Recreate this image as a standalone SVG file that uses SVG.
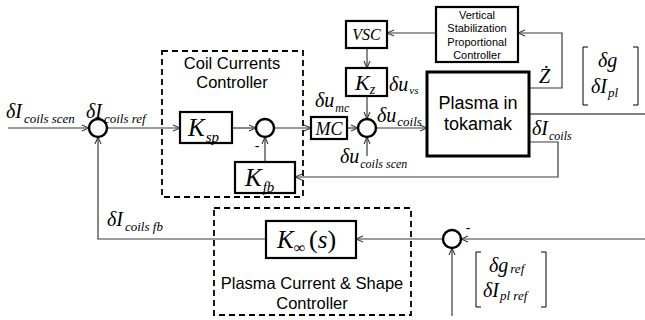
<svg xmlns="http://www.w3.org/2000/svg" width="645" height="320" viewBox="0 0 645 320">
<style>
.c{fill:none;stroke:#3a3a3a;stroke-width:1.2}
.b{fill:#fff;stroke:#000;stroke-width:2.2}
.d{fill:none;stroke:#000;stroke-width:1.8;stroke-dasharray:6 4}
.s{fill:#fff;stroke:#000;stroke-width:2.4}
.m{font-family:"Liberation Serif",serif;font-style:italic;fill:#000}
.t{font-family:"Liberation Sans",Arial,sans-serif;fill:#000;text-anchor:middle}
.k{fill:none;stroke:#000;stroke-width:1}
</style>
<defs>
<marker id="a" viewBox="0 0 8 8" refX="8" refY="4" markerWidth="8" markerHeight="8" orient="auto" markerUnits="userSpaceOnUse">
<path d="M1,1 L8,4 L1,7" fill="none" stroke="#3a3a3a" stroke-width="1.1"/>
</marker>
</defs>
<g id="connectors">
<line class="c" x1="8" y1="128" x2="89" y2="128" marker-end="url(#a)"/>
<line class="c" x1="107" y1="128" x2="180" y2="128" marker-end="url(#a)"/>
<line class="c" x1="232" y1="128" x2="256" y2="128" marker-end="url(#a)"/>
<line class="c" x1="265" y1="162" x2="265" y2="137" marker-end="url(#a)"/>
<line class="c" x1="274" y1="128" x2="311" y2="128" marker-end="url(#a)"/>
<line class="c" x1="347" y1="128" x2="358" y2="128" marker-end="url(#a)"/>
<line class="c" x1="367" y1="48" x2="367" y2="68" marker-end="url(#a)"/>
<line class="c" x1="367" y1="96" x2="367" y2="119" marker-end="url(#a)"/>
<line class="c" x1="367" y1="156" x2="367" y2="137" marker-end="url(#a)"/>
<line class="c" x1="376" y1="128" x2="427" y2="128" marker-end="url(#a)"/>
<line class="c" x1="436" y1="33" x2="387" y2="33" marker-end="url(#a)"/>
<polyline class="c" points="529,88 562,88 562,33 518,33" marker-end="url(#a)"/>
<line x1="529" y1="114" x2="645" y2="114" stroke="#000" stroke-width="1.2"/>
<polyline class="c" points="529,142 558,142 558,177 295,177" marker-end="url(#a)"/>
<line class="c" x1="645" y1="239" x2="461" y2="239" marker-end="url(#a)"/>
<line class="c" x1="452" y1="316" x2="452" y2="248" marker-end="url(#a)"/>
<line class="c" x1="443" y1="239" x2="356" y2="239" marker-end="url(#a)"/>
<polyline class="c" points="266,239 98,239 98,137" marker-end="url(#a)"/>
</g>
<g id="coil-currents-controller">
<rect class="d" x="162" y="51" width="141" height="146"/>
<text class="t" x="232" y="69" font-size="16.5">Coil Currents</text>
<text class="t" x="232" y="88" font-size="16.5">Controller</text>
</g>
<g id="plasma-shape-controller">
<rect class="d" x="214" y="208" width="197" height="107"/>
<text class="t" x="312" y="289" font-size="16.5">Plasma Current &amp; Shape</text>
<text class="t" x="312" y="309" font-size="16.5">Controller</text>
</g>
<g id="sum1"><circle class="s" cx="98" cy="128" r="9"/></g>
<g id="sum2"><circle class="s" cx="265" cy="128" r="9"/>
<text class="t" x="257" y="151" font-size="14">-</text></g>
<g id="sum3"><circle class="s" cx="367" cy="128" r="9"/></g>
<g id="sum4"><circle class="s" cx="452" cy="239" r="9"/>
<text class="t" x="468" y="233" font-size="14">-</text></g>
<g id="Ksp"><rect class="b" x="180" y="112" width="52" height="31"/>
<text class="m" x="188" y="136" font-size="25">K<tspan font-size="15" dy="6" dx="1">sp</tspan></text></g>
<g id="Kfb"><rect class="b" x="235" y="162" width="60" height="31"/>
<text class="m" x="245" y="186" font-size="25">K<tspan font-size="15" dy="6" dx="1">fb</tspan></text></g>
<g id="MC"><rect class="b" x="311" y="117" width="36" height="22"/>
<text class="m" x="329" y="135" font-size="18" text-anchor="middle">MC</text></g>
<g id="VSC"><rect class="b" x="346" y="21" width="41" height="27"/>
<text class="m" x="366.5" y="40" font-size="16" text-anchor="middle">VSC</text></g>
<g id="Kz"><rect class="b" x="346" y="68" width="41" height="28"/>
<text class="m" x="355" y="90" font-size="22">K<tspan font-size="14" dy="4">z</tspan></text></g>
<g id="VSPC"><rect class="b" x="436" y="7" width="82" height="55"/>
<text class="t" x="477" y="19" font-size="11">Vertical</text>
<text class="t" x="477" y="32" font-size="11">Stabilization</text>
<text class="t" x="477" y="45.5" font-size="11">Proportional</text>
<text class="t" x="477" y="58.5" font-size="11">Controller</text></g>
<g id="plasma"><rect x="427" y="72" width="102" height="84" fill="#fff" stroke="#000" stroke-width="3"/>
<text class="t" x="478" y="109" font-size="18">Plasma in</text>
<text class="t" x="478" y="130" font-size="18">tokamak</text></g>
<g id="Kinf"><rect class="b" x="266" y="221" width="90" height="37"/>
<text class="m" x="277" y="248" font-size="25">K<tspan font-size="16" dy="5">∞</tspan><tspan font-style="normal" font-size="26" dy="-5" dx="4">(</tspan><tspan>s</tspan><tspan font-style="normal" font-size="26">)</tspan></text></g>
<g id="labels">
<text class="m" x="6" y="118" font-size="20">δI<tspan font-size="13" dy="5" dx="2">coils scen</tspan></text>
<text class="m" x="86" y="118" font-size="20">δI<tspan font-size="13" dy="5" dx="2">coils ref</tspan></text>
<text class="m" x="315" y="107" font-size="20">δu<tspan font-size="12" dy="5" dx="1">mc</tspan></text>
<text class="m" x="389" y="91" font-size="20">δu<tspan font-size="11" dy="3" dx="1">vs</tspan></text>
<text class="m" x="377" y="122" font-size="20">δu<tspan font-size="13" dy="4" dx="1">coils</tspan></text>
<text class="m" x="340" y="163" font-size="20">δu<tspan font-size="12" dy="5" dx="1">coils scen</tspan></text>
<text class="m" x="532" y="135" font-size="20">δI<tspan font-size="12" dy="5" dx="1">coils</tspan></text>
<text class="m" x="107" y="226" font-size="20">δI<tspan font-size="13" dy="5" dx="2">coils fb</tspan></text>
<text class="m" x="539" y="83" font-size="20">Ż</text>
</g>
<g id="matrix-out">
<path class="k" d="M588,47 H583 V105 H588 M633,47 H638 V105 H633"/>
<text class="m" x="598" y="67" font-size="20">δg</text>
<text class="m" x="591" y="93" font-size="20">δI<tspan font-size="13" dy="4" dx="1">pl</tspan></text>
</g>
<g id="matrix-ref">
<path class="k" d="M481,252 H476 V307 H481 M541,252 H546 V307 H541"/>
<text class="m" x="489" y="272" font-size="20">δg<tspan font-size="13" dy="1" dx="2">ref</tspan></text>
<text class="m" x="483" y="297" font-size="20">δI<tspan font-size="13" dy="3" dx="1">pl ref</tspan></text>
</g>
</svg>
